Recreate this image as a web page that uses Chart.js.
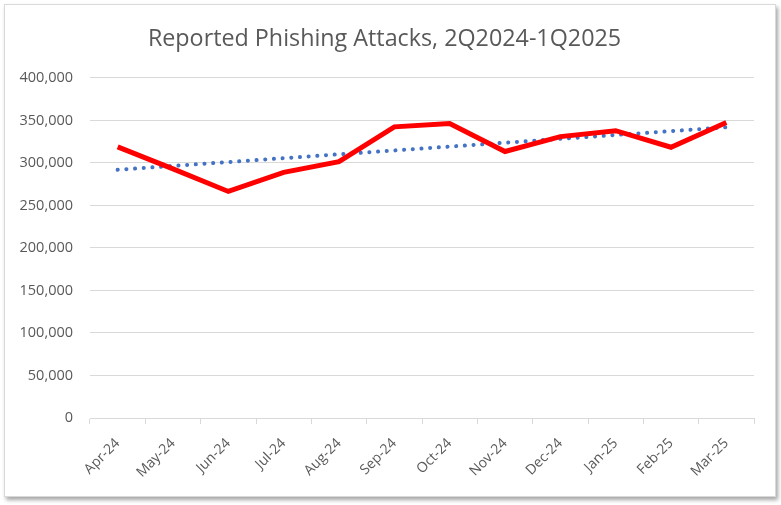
<!DOCTYPE html>
<html>
<head>
<meta charset="utf-8">
<script src="https://cdn.jsdelivr.net/npm/chart.js@4.4.1/dist/chart.umd.min.js"></script>
<style>
  body { margin: 0; background: #ffffff; }
  #marco {
    position: absolute; left: 4px; top: 4px; width: 770px; height: 491px;
    border: 1px solid #d9d9d9; background: #ffffff;
    box-shadow: 2px 3px 4px rgba(0,0,0,0.35);
  }
  #grafica { display: block; }
</style>
</head>
<body>
<div id="marco"><canvas id="grafica" width="770" height="491"></canvas></div>
<script>
// datos
var meses = ['Apr-24','May-24','Jun-24','Jul-24','Aug-24','Sep-24','Oct-24','Nov-24','Dec-24','Jan-25','Feb-25','Mar-25'];
var ataques = [319000, 293000, 266500, 289000, 301500, 342500, 346500, 313500, 331000, 338000, 318500, 347500];
// tendencia lineal: solo extremos, el resto se une con spanGaps
var tendencia = [292000, null, null, null, null, null, null, null, null, null, null, 342000];
var yMin = 0;
var yMax = 400000;
var yPaso = 50000;

var colorTexto = '#595959';
var colorRejilla = '#d9d9d9';

var ctx = document.getElementById('grafica');

var chartOptions = {
    responsive: false,
    animation: false,
    layout: { padding: { left: 10, right: 21, top: 0, bottom: 0 } },
    plugins: {
        legend: { display: false },
        tooltip: { enabled: false },
        title: {
            display: true,
            text: 'Reported Phishing Attacks, 2Q2024-1Q2025',
            color: colorTexto,
            font: { family: 'Open Sans', size: 23.3, weight: 'normal' },
            padding: { top: 20, bottom: 25 }
        }
    },
    scales: {
        x: {
            offset: true,
            grid: { display: true, drawOnChartArea: false, drawTicks: true, tickLength: 6, color: colorRejilla, offset: true },
            border: { display: true, color: colorRejilla },
            ticks: {
                color: colorTexto,
                font: { family: 'Open Sans', size: 14 },
                minRotation: 45,
                maxRotation: 45,
                autoSkip: false,
                padding: 11
            },
            afterFit: function(scale){ scale.height = 78; }
        },
        y: {
            min: yMin,
            max: yMax,
            grid: { color: colorRejilla, drawTicks: false },
            border: { display: false },
            ticks: {
                stepSize: yPaso,
                color: colorTexto,
                font: { family: 'Open Sans', size: 14.5 },
                padding: 17,
                callback: function(value){ return value.toLocaleString('en-US'); }
            },
            afterFit: function(scale){ scale.width = 75; }
        }
    }
};

var lineChart = new Chart(ctx, {
    type: 'line',
    data: {
        labels: meses,
        datasets: [{
            label: 'Reportes',
            data: ataques,
            borderColor: '#ff0000',
            borderWidth: 5,
            pointRadius: 0,
            tension: 0,
            fill: false,
            borderJoinStyle: 'miter',
            order: 1
        }, {
            label: 'Tendencia',
            data: tendencia,
            spanGaps: true,
            borderColor: '#4472c4',
            borderWidth: 4,
            borderDash: [0.1, 8.6],
            borderCapStyle: 'round',
            pointRadius: 0,
            fill: false,
            order: 2
        }]
    },
    options: chartOptions
});
</script>
</body>
</html>
